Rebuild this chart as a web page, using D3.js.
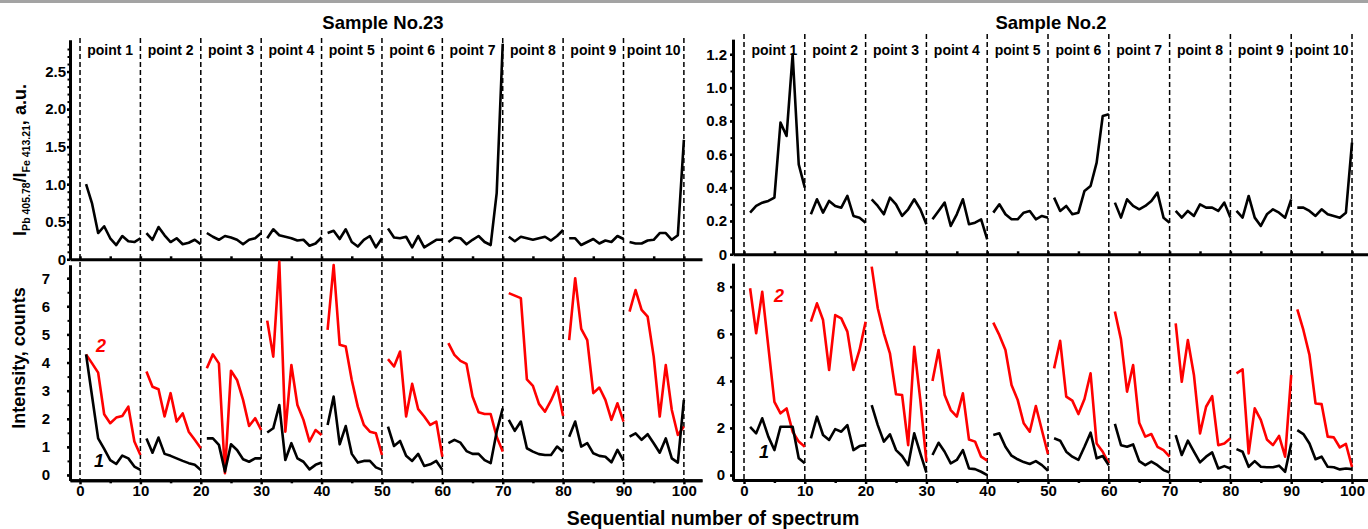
<!DOCTYPE html>
<meta charset="utf-8">
<script src="https://cdn.jsdelivr.net/npm/d3@7"></script>
<style>
  body { margin: 0; background: #fff; }
  svg { font-family: Arial, "Liberation Sans", sans-serif; font-weight: bold; }
  .tick text { font-size: 15px; font-weight: bold; fill: #000; }
  .lbl { font-weight: bold; fill: #000; }
</style>
<svg id="chart" width="1368" height="529"></svg>
<script>
// spectrum numbers 1..100, ten spectra per measuring point
const spectrumNo = d3.range(1, 101);
const pointLabels = ["point 1", "point 2", "point 3", "point 4", "point 5",
                     "point 6", "point 7", "point 8", "point 9", "point 10"];
const xTicks = [0, 10, 20, 30, 40, 50, 60, 70, 80, 90, 100];

// Sample No.23 : I(Pb 405.78)/I(Fe 413.21)
const s23Ratio = [
  1.0, 0.74, 0.35, 0.44, 0.28, 0.19, 0.31, 0.24, 0.23, 0.28,
  0.35, 0.26, 0.43, 0.32, 0.23, 0.28, 0.2, 0.22, 0.26, 0.2,
  0.35, 0.3, 0.26, 0.31, 0.29, 0.26, 0.2, 0.26, 0.28, 0.35,
  0.28, 0.4, 0.32, 0.3, 0.28, 0.25, 0.26, 0.18, 0.21, 0.29,
  0.35, 0.38, 0.27, 0.4, 0.23, 0.17, 0.26, 0.31, 0.16, 0.28,
  0.41, 0.29, 0.28, 0.3, 0.16, 0.31, 0.16, 0.21, 0.26, 0.26,
  0.23, 0.29, 0.28, 0.2, 0.26, 0.31, 0.23, 0.19, 0.88, 2.87,
  0.3, 0.24, 0.3, 0.28, 0.26, 0.28, 0.3, 0.25, 0.31, 0.39,
  0.28, 0.28, 0.19, 0.23, 0.27, 0.21, 0.25, 0.23, 0.31, 0.27,
  0.23, 0.21, 0.21, 0.25, 0.26, 0.35, 0.35, 0.26, 0.32, 1.59
];
// Sample No.23 : intensity, curve 1 (black)
const s23Curve1 = [
  4.29, 2.79, 1.3, 0.93, 0.53, 0.39, 0.69, 0.59, 0.3, 0.18,
  1.3, 0.79, 1.33, 0.75, 0.68, 0.59, 0.5, 0.42, 0.36, 0.18,
  1.3, 1.3, 1.07, 0.12, 1.09, 0.89, 0.56, 0.47, 0.59, 0.59,
  1.51, 1.66, 2.49, 0.53, 1.13, 0.59, 0.47, 0.2, 0.36, 0.44,
  1.78, 2.79, 1.09, 1.74, 0.75, 0.44, 0.5, 0.5, 0.27, 0.18,
  1.72, 1.03, 1.21, 0.68, 0.5, 0.75, 0.32, 0.38, 0.5, 0.18,
  1.13, 1.25, 1.15, 0.85, 0.75, 0.75, 0.53, 0.42, 1.54, 2.37,
  1.96, 1.57, 1.9, 0.95, 0.83, 0.74, 0.71, 0.71, 1.01, 0.83,
  1.36, 1.9, 1.01, 1.13, 0.77, 0.68, 0.65, 0.45, 0.89, 0.51,
  1.36, 1.48, 1.25, 1.45, 1.13, 0.79, 1.3, 0.59, 0.44, 2.67
];
// Sample No.23 : intensity, curve 2 (red)
const s23Curve2 = [
  4.29, 3.97, 3.64, 2.16, 1.84, 2.04, 2.1, 2.43, 1.19, 0.71,
  3.68, 3.14, 3.05, 2.08, 2.91, 1.9, 2.19, 1.54, 1.25, 0.95,
  3.8, 4.29, 3.97, 0.06, 3.71, 3.38, 2.67, 1.74, 2.02, 1.6,
  5.49, 4.21, 7.59, 1.54, 3.91, 2.49, 1.96, 1.19, 1.6, 1.42,
  5.16, 7.47, 4.63, 4.57, 3.38, 2.43, 1.78, 1.54, 1.48, 0.71,
  4.12, 3.86, 4.39, 2.08, 3.24, 2.34, 2.08, 1.78, 1.9, 0.65,
  4.69, 4.27, 4.06, 3.95, 2.79, 2.23, 2.17, 2.17, 1.36, 0.83,
  6.47, 6.38, 6.29, 3.4, 3.17, 2.53, 2.25, 2.65, 3.14, 2.1,
  4.8, 7.0, 5.2, 4.8, 2.91, 3.11, 2.67, 1.96, 2.55, 1.9,
  5.81, 6.58, 5.87, 5.63, 4.21, 2.08, 3.91, 2.31, 1.42, 1.72
];

// Sample No.2 : I(Pb 405.78)/I(Fe 413.21)
const s2Ratio = [
  0.25, 0.29, 0.31, 0.32, 0.34, 0.79, 0.71, 1.2, 0.54, 0.4,
  0.24, 0.33, 0.25, 0.32, 0.29, 0.28, 0.35, 0.23, 0.22, 0.19,
  0.33, 0.29, 0.24, 0.34, 0.3, 0.23, 0.27, 0.33, 0.27, 0.18,
  0.21, 0.26, 0.31, 0.17, 0.24, 0.33, 0.18, 0.19, 0.21, 0.09,
  0.25, 0.3, 0.24, 0.21, 0.21, 0.25, 0.26, 0.21, 0.23, 0.22,
  0.34, 0.26, 0.29, 0.24, 0.25, 0.38, 0.41, 0.55, 0.83, 0.84,
  0.31, 0.22, 0.33, 0.29, 0.27, 0.29, 0.32, 0.37, 0.22, 0.19,
  0.26, 0.22, 0.26, 0.23, 0.3, 0.28, 0.28, 0.26, 0.31, 0.22,
  0.26, 0.22, 0.35, 0.22, 0.17, 0.24, 0.27, 0.25, 0.22, 0.33,
  0.28, 0.28, 0.26, 0.23, 0.27, 0.24, 0.23, 0.22, 0.25, 0.67
];
// Sample No.2 : intensity, curve 1 (black)
const s2Curve1 = [
  2.05, 1.77, 2.41, 1.63, 1.06, 2.05, 2.05, 2.05, 0.71, 0.5,
  1.56, 2.48, 1.7, 1.49, 1.95, 1.84, 2.12, 1.06, 1.23, 1.27,
  2.97, 2.12, 1.42, 1.73, 1.06, 0.81, 0.42, 1.77, 0.92, 0.1,
  0.85, 1.37, 0.99, 0.5, 0.64, 1.06, 0.28, 0.25, 0.14, 0.0,
  1.7, 1.77, 1.2, 0.82, 0.67, 0.55, 0.47, 0.59, 0.42, 0.18,
  1.56, 1.46, 0.99, 0.78, 0.64, 1.2, 1.8, 0.71, 0.81, 0.42,
  2.17, 1.27, 1.2, 1.3, 0.59, 0.42, 0.57, 0.42, 0.21, 0.11,
  1.7, 0.85, 1.46, 0.99, 0.54, 0.78, 0.96, 0.28, 0.38, 0.28,
  1.1, 0.99, 0.35, 0.59, 0.35, 0.33, 0.33, 0.4, 0.14, 1.34,
  1.91, 1.74, 1.34, 0.67, 0.78, 0.35, 0.33, 0.24, 0.28, 0.25
];
// Sample No.2 : intensity, curve 2 (red)
const s2Curve2 = [
  7.93, 6.02, 7.78, 5.45, 3.11, 2.62, 2.83, 1.84, 1.42, 1.2,
  6.51, 7.29, 6.58, 4.46, 6.79, 6.65, 6.09, 4.46, 5.31, 6.51,
  8.85, 7.08, 6.02, 5.17, 3.43, 3.4, 1.27, 5.45, 3.18, 0.57,
  3.99, 5.31, 3.4, 2.76, 2.48, 3.47, 1.51, 1.42, 0.78, 0.61,
  6.47, 5.94, 5.31, 3.82, 3.2, 2.2, 1.84, 2.93, 1.9, 0.89,
  4.53, 5.7, 3.33, 3.16, 2.59, 3.23, 4.32, 1.34, 0.99, 0.5,
  6.94, 5.76, 3.54, 4.67, 2.22, 1.63, 1.74, 1.2, 1.06, 0.78,
  6.44, 3.96, 5.73, 4.25, 1.77, 2.9, 3.35, 1.27, 1.34, 1.56,
  4.32, 4.49, 0.92, 2.83, 2.34, 1.51, 1.27, 1.66, 0.78, 4.25,
  7.03, 6.16, 5.1, 3.04, 3.01, 1.63, 1.6, 1.17, 1.32, 0.35
];

const svg = d3.select("#chart");

// thin grey rule along the top edge
svg.append("rect").attr("x", 0).attr("y", 0).attr("width", 1368).attr("height", 3)
    .attr("fill", "#a3a3a3");

// split a 100-value series into its ten points
function segments(values) {
    return pointLabels.map((p, i) =>
        d3.range(i * 10, i * 10 + 10).map(k => [spectrumNo[k], values[k]]));
}

function styleAxis(g, tickW) {
    g.select(".domain").attr("stroke", "#000").attr("stroke-width", 3);
    g.selectAll(".tick line").attr("stroke", "#000").attr("stroke-width", tickW || 2.5);
}

const columns = [
    {
        title: "Sample No.23", titleX: 383,
        ratio: s23Ratio, c1: s23Curve1, c2: s23Curve2,
        xDomain: [-1.66, 103], xRange: [70, 702], dashTop: 38,
        topDomain: [0, 2.92], topRange: [259.3, 40],
        topTicks: [0, 0.5, 1, 1.5, 2, 2.5], topMinor: d3.range(0, 29).map(d => d / 10),
        topPad: 1,
        botDomain: [-0.19, 7.47], botRange: [480.3, 265],
        botTicks: [0, 1, 2, 3, 4, 5, 6, 7], botMinor: d3.range(0, 15).map(d => d / 2),
        botPad: 17,
        n2: [101, 351.5], n1: [99, 466.5]
    },
    {
        title: "Sample No.2", titleX: 1051,
        ratio: s2Ratio, c1: s2Curve1, c2: s2Curve2,
        xDomain: [-1.81, 102.63], xRange: [733, 1368], dashTop: 34,
        topDomain: [0, 1.29], topRange: [254.3, 39.3],
        topTicks: [0, 0.2, 0.4, 0.6, 0.8, 1.0, 1.2], topMinor: d3.range(0, 13).map(d => d / 10),
        topPad: 3,
        botDomain: [-0.21, 8.99], botRange: [480, 263.3],
        botTicks: [0, 2, 4, 6, 8], botMinor: d3.range(0, 9),
        botPad: 5,
        n2: [779, 301.5], n1: [764, 458]
    }
];

columns.forEach(col => {
    const g = svg.append("g");
    const x = d3.scaleLinear().domain(col.xDomain).range(col.xRange);
    const yTop = d3.scaleLinear().domain(col.topDomain).range(col.topRange);
    const yBot = d3.scaleLinear().domain(col.botDomain).range(col.botRange);

    // title
    g.append("text").attr("class", "lbl")
        .attr("x", col.titleX).attr("y", 29)
        .attr("text-anchor", "middle").style("font-size", "18.5px")
        .text(col.title);

    // dashed separators between points
    g.selectAll(null).data(xTicks).join("line")
        .attr("x1", d => x(d)).attr("x2", d => x(d))
        .attr("y1", col.dashTop).attr("y2", yBot.range()[0])
        .attr("stroke", "#000").attr("stroke-width", 1.5)
        .attr("stroke-dasharray", "5,3");

    // point names
    g.selectAll(null).data(pointLabels).join("text")
        .attr("class", "lbl")
        .attr("x", (d, i) => x(i * 10 + 5)).attr("y", 55)
        .attr("text-anchor", "middle").style("font-size", "14px")
        .text(d => d);

    // ---- top panel : ratio
    const yTopLo = col.topRange[0];
    const axTopX = g.append("g").attr("transform", `translate(0,${yTopLo})`)
        .call(d3.axisTop(x).tickValues(d3.range(0, 101, 5)).tickFormat("")
            .tickSize(3).tickSizeOuter(0));
    styleAxis(axTopX);

    const axTopYm = g.append("g").attr("transform", `translate(${col.xRange[0]},0)`)
        .call(d3.axisLeft(yTop).tickValues(col.topMinor).tickFormat("")
            .tickSize(2.5).tickSizeOuter(0));
    styleAxis(axTopYm, 2);
    const axTopY = g.append("g").attr("transform", `translate(${col.xRange[0]},0)`)
        .call(d3.axisLeft(yTop).tickValues(col.topTicks)
            .tickFormat(d => d === 0 ? "0" : d3.format(".1f")(d))
            .tickSize(3).tickPadding(col.topPad).tickSizeOuter(0));
    styleAxis(axTopY);

    const lineTop = d3.line().x(d => x(d[0])).y(d => yTop(d[1]));
    g.selectAll(null).data(segments(col.ratio)).join("path")
        .attr("d", lineTop).attr("fill", "none")
        .attr("stroke", "#000").attr("stroke-width", 2.6)
        .attr("stroke-linejoin", "round");

    // ---- bottom panel : intensities
    const axBotX = g.append("g").attr("transform", `translate(0,${col.botRange[0]})`)
        .call(d3.axisBottom(x).tickValues(d3.range(5, 101, 10)).tickFormat("")
            .tickSize(3).tickSizeOuter(0));
    styleAxis(axBotX);
    const axBotX2 = g.append("g").attr("transform", `translate(0,${col.botRange[0]})`)
        .call(d3.axisBottom(x).tickValues(xTicks).tickSize(4).tickPadding(1).tickSizeOuter(0));
    styleAxis(axBotX2);

    const axBotYm = g.append("g").attr("transform", `translate(${col.xRange[0]},0)`)
        .call(d3.axisLeft(yBot).tickValues(col.botMinor).tickFormat("")
            .tickSize(2.5).tickSizeOuter(0));
    styleAxis(axBotYm, 2);
    const axBotY = g.append("g").attr("transform", `translate(${col.xRange[0]},0)`)
        .call(d3.axisLeft(yBot).tickValues(col.botTicks)
            .tickSize(3).tickPadding(col.botPad).tickSizeOuter(0));
    styleAxis(axBotY);

    const lineBot = d3.line().x(d => x(d[0])).y(d => yBot(d[1]));
    g.selectAll(null).data(segments(col.c2)).join("path")
        .attr("d", lineBot).attr("fill", "none")
        .attr("stroke", "#ff0000").attr("stroke-width", 2.6)
        .attr("stroke-linejoin", "round");
    g.selectAll(null).data(segments(col.c1)).join("path")
        .attr("d", lineBot).attr("fill", "none")
        .attr("stroke", "#000").attr("stroke-width", 2.6)
        .attr("stroke-linejoin", "round");

    // curve numbers
    g.append("text").attr("x", col.n2[0]).attr("y", col.n2[1])
        .attr("text-anchor", "middle").attr("fill", "#ff0000")
        .style("font-size", "18px").style("font-style", "italic").text("2");
    g.append("text").attr("x", col.n1[0]).attr("y", col.n1[1])
        .attr("text-anchor", "middle").attr("fill", "#000")
        .style("font-size", "18px").style("font-style", "italic").text("1");
});

// axis titles
const yTitleTop = svg.append("text").attr("class", "lbl")
    .attr("transform", "translate(26,160) rotate(-90)")
    .attr("text-anchor", "middle").style("font-size", "18px");
yTitleTop.append("tspan").text("I");
yTitleTop.append("tspan").attr("dy", 4).style("font-size", "10.5px").text("Pb 405.78");
yTitleTop.append("tspan").attr("dy", -4).text("/I");
yTitleTop.append("tspan").attr("dy", 4).style("font-size", "10.5px").text("Fe 413.21");
yTitleTop.append("tspan").attr("dy", -4).text(", a.u.");

svg.append("text").attr("class", "lbl")
    .attr("transform", "translate(25,358) rotate(-90)")
    .attr("text-anchor", "middle").style("font-size", "18px")
    .text("Intensity, counts");

svg.append("text").attr("class", "lbl")
    .attr("x", 713).attr("y", 525)
    .attr("text-anchor", "middle").style("font-size", "19.5px")
    .text("Sequential number of spectrum");
</script>
